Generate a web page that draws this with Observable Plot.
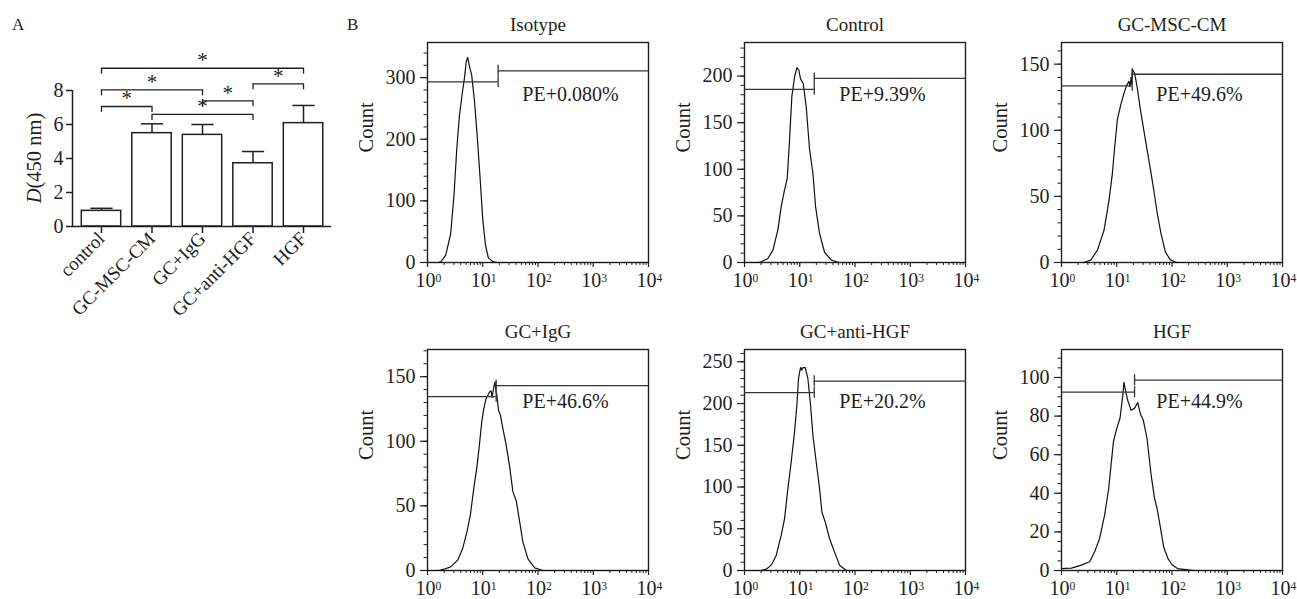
<!DOCTYPE html>
<html><head><meta charset="utf-8">
<script src="https://cdn.jsdelivr.net/npm/d3@7"></script>
<script src="https://cdn.jsdelivr.net/npm/@observablehq/plot@0.6"></script>
<style>
html,body{margin:0;padding:0;background:#fff;}
#fig{position:relative;width:1297px;height:599px;overflow:hidden;font-family:"Liberation Serif","Times New Roman",serif;color:#231f20;}
#fig svg{position:absolute;overflow:visible;font-family:"Liberation Serif","Times New Roman",serif !important;}
#fig svg text, #fig svg tspan{font-family:"Liberation Serif","Times New Roman",serif !important;}
#fig svg g[aria-label="y-axis tick label"]{font-size:20px !important;}
#fig svg.hist g[aria-label="x-axis tick label"]{font-size:20px !important;}
#fig svg.barA g[aria-label="x-axis tick label"]{font-size:19px !important;}
.plabel{position:absolute;font-size:17px;line-height:17px;}
</style></head><body><div id="fig"></div>
<script>
// ---------- Panel A data ----------
const categories = ["control", "GC-MSC-CM", "GC+IgG", "GC+anti-HGF", "HGF"];
const means = [0.92, 5.49, 5.39, 3.72, 6.08];
const errs = [0.15, 0.55, 0.61, 0.69, 1.04];
const yTicksA = [0, 2, 4, 6, 8];
const bracketFrom = ["control", "control", "control", "GC-MSC-CM", "GC+IgG", "GC+anti-HGF"];
const bracketTo = ["GC-MSC-CM", "GC+IgG", "HGF", "GC+anti-HGF", "GC+anti-HGF", "HGF"];
const bracketLevel = [7.06, 8.04, 9.31, 6.59, 7.39, 8.39];

// ---------- Panel B data: [log10 fluorescence, count] ----------
const isotypeCurve = [[0,0],[0.2,0],[0.25,2],[0.33,12],[0.42,47],[0.48,110],[0.53,185],[0.58,240],[0.63,275],[0.67,300],[0.70,325],[0.727,333],[0.76,318],[0.80,304],[0.85,262],[0.90,205],[0.95,140],[1.0,70],[1.05,28],[1.1,8],[1.18,1.5],[1.25,0],[4,0]];
const controlCurve = [[0,0],[0.25,0],[0.302,0.7],[0.423,4.3],[0.513,13],[0.604,35],[0.664,60],[0.725,78],[0.773,90],[0.815,131],[0.857,178],[0.906,199],[0.948,209],[0.984,206],[1.014,197],[1.063,192],[1.117,167],[1.178,121],[1.238,96],[1.286,60],[1.359,31],[1.449,11],[1.57,2.5],[1.72,0],[4,0]];
const gcmscCurve = [[0,0],[0.4,0],[0.53,1.8],[0.65,9.3],[0.77,24.5],[0.86,47],[0.92,67],[0.963,87.5],[1.011,108],[1.071,119],[1.131,128],[1.179,134],[1.22,137],[1.24,133],[1.26,140],[1.27,135],[1.285,146],[1.324,143],[1.372,132],[1.43,115],[1.49,100],[1.55,85],[1.62,68],[1.68,52],[1.73,38],[1.80,22],[1.88,8],[1.97,2],[2.09,0],[4,0]];
const gcIgGCurve = [[0,0],[0.2,0],[0.30,1],[0.42,2.8],[0.545,8],[0.636,17],[0.715,30],[0.776,43],[0.836,63],[0.897,81],[0.939,97],[0.982,115],[1.018,125],[1.06,133],[1.12,138],[1.15,139],[1.17,134],[1.2,142],[1.224,146],[1.24,138],[1.255,136],[1.285,124],[1.32,120],[1.364,110],[1.424,97],[1.485,81],[1.545,61],[1.606,54],[1.667,38],[1.727,22],[1.818,9],[1.94,2],[2.09,0],[4,0]];
const antiHGFCurve = [[0,0],[0.3,0],[0.393,1.6],[0.483,6.4],[0.574,18],[0.664,42],[0.725,62],[0.785,98],[0.845,130],[0.906,166],[0.948,198],[0.978,230],[1.014,243],[1.035,240],[1.057,243],[1.099,243],[1.147,230],[1.196,198],[1.238,162],[1.298,130],[1.359,98],[1.401,70],[1.461,58],[1.54,38],[1.63,22],[1.721,6.4],[1.842,0],[4,0]];
const hgfCurve = [[0,1],[0.18,1.2],[0.36,2.8],[0.51,4.5],[0.60,9.7],[0.69,16.6],[0.78,28.7],[0.854,42.5],[0.902,56],[0.94,66.7],[0.999,73.5],[1.06,79],[1.11,91],[1.13,97.5],[1.16,93],[1.2,88],[1.26,83],[1.32,84],[1.38,87],[1.43,81],[1.48,78],[1.55,68],[1.62,50],[1.68,38],[1.73,32],[1.78,24],[1.85,12],[1.93,6],[2.0,3],[2.1,1],[2.25,0.5],[2.4,0],[4,0]];

const panelTitles = ["Isotype", "Control", "GC-MSC-CM", "GC+IgG", "GC+anti-HGF", "HGF"];
const peLabels = ["PE+0.080%", "PE+9.39%", "PE+49.6%", "PE+46.6%", "PE+20.2%", "PE+44.9%"];
const panelCurves = [isotypeCurve, controlCurve, gcmscCurve, gcIgGCurve, antiHGFCurve, hgfCurve];
const yMax = [357, 236, 166.4, 171, 264.7, 114.5];
const yMajorTicks = [[0,100,200,300],[0,50,100,150,200],[0,50,100,150],[0,50,100,150],[0,50,100,150,200,250],[0,20,40,60,80,100]];
const yMinorStep = [20, 10, 10, 10, 10, 5];
const gateBoundary = [19, 18.3, 19, 17.5, 18.3, 21];
const gateLeftLevel = [293, 185.7, 133.6, 134.5, 213, 92.4];
const gateRightLevel = [311, 197.5, 142.4, 143, 226.8, 98.6];
const xDecades = [1, 10, 100, 1000, 10000];

const INK = "#231f20";
const FONT = "Liberation Serif";
const fig = document.getElementById("fig");

function place(svg, left, top, cls) {
  svg.style.left = left + "px";
  svg.style.top = top + "px";
  svg.classList.add(cls);
  fig.appendChild(svg);
}

// ---------- Panel A ----------
const barData = categories.map((c, i) => ({i, c, mean: means[i], err: errs[i]}));
const brk = bracketFrom.map((f, k) => ({a: categories.indexOf(f), b: categories.indexOf(bracketTo[k]), level: bracketLevel[k]}));
const halfW = 0.39, capW = 0.22, drop = 0.35;
const xDomA = [-0.574, 4.554];

const plotA = Plot.plot({
  width: 340, height: 300, marginLeft: 72, marginRight: 9, marginTop: 90, marginBottom: 74,
  style: {fontFamily: FONT, fontSize: "18px", color: INK, background: "transparent", overflow: "visible"},
  x: {type: "linear", domain: xDomA},
  y: {domain: [0, 8]},
  marks: [
    Plot.rectY(barData, {x1: d => d.i - halfW, x2: d => d.i + halfW, y1: 0, y2: "mean", fill: "white", stroke: INK, strokeWidth: 1.5}),
    Plot.ruleX(barData, {x: "i", y1: "mean", y2: d => d.mean + d.err, stroke: INK, strokeWidth: 1.5}),
    Plot.link(barData, {x1: d => d.i - capW, x2: d => d.i + capW, y1: d => d.mean + d.err, y2: d => d.mean + d.err, stroke: INK, strokeWidth: 1.5}),
    Plot.axisY({ticks: yTicksA, tickSize: 6, tickPadding: 3, label: null, stroke: INK, strokeWidth: 1.5}),
    Plot.axisX({ticks: barData.map(d => d.i), tickSize: 7, tickPadding: 2, tickRotate: -45, tickFormat: i => categories[i], label: null, stroke: INK, strokeWidth: 1.5}),
    Plot.ruleX([xDomA[0]], {y1: 0, y2: 8, stroke: INK, strokeWidth: 1.5}),
    Plot.ruleY([0], {stroke: INK, strokeWidth: 1.5}),
    Plot.link(brk, {x1: "a", x2: "b", y1: "level", y2: "level", stroke: INK, strokeWidth: 1.3}),
    Plot.ruleX(brk, {x: "a", y1: d => d.level - drop, y2: "level", stroke: INK, strokeWidth: 1.3}),
    Plot.ruleX(brk, {x: "b", y1: d => d.level - drop, y2: "level", stroke: INK, strokeWidth: 1.3}),
    Plot.text(brk, {x: d => (d.a + d.b) / 2, y: "level", text: () => "*", dy: -8, fontSize: 21, fill: INK})
  ]
});
place(plotA, 0, 0, "barA");
{
  const t = d3.select(plotA).append("text")
    .attr("transform", "translate(34,158) rotate(-90)")
    .attr("text-anchor", "middle").attr("dy", "0.35em")
    .attr("font-size", 20.5).attr("fill", INK);
  t.append("tspan").attr("font-style", "italic").text("D");
  t.append("tspan").text("(450 nm)");
}

// ---------- Panel B ----------
const colLeft = [427, 744, 1061];
const rowTop = [42, 349];
const frameH = [220, 221];
const frameW = 221;
const ML = 80, MT = 45, MR = 20, MB = 40;
const minorX = [];
for (let k = 0; k < 4; k++) for (let m = 2; m <= 9; m++) minorX.push(m * 10 ** k);

panelTitles.forEach((title, p) => {
  const row = Math.floor(p / 3), col = p % 3;
  const H = frameH[row];
  const ymax = yMax[p];
  const half = 5.5 * ymax / H;
  const pts = panelCurves[p].map(([lg, c]) => ({x: 10 ** lg, y: c}));
  const g = gateBoundary[p], lo = gateLeftLevel[p], hi = gateRightLevel[p];
  const svg = Plot.plot({
    width: ML + frameW + MR, height: MT + H + MB,
    marginLeft: ML, marginRight: MR, marginTop: MT, marginBottom: MB,
    style: {fontFamily: FONT, fontSize: "19px", color: INK, background: "transparent", overflow: "visible"},
    x: {type: "log", domain: [1, 1e4]},
    y: {domain: [0, ymax]},
    marks: [
      Plot.axisX({ticks: xDecades, tickSize: 5, tickPadding: 5, tickFormat: d => String(Math.round(Math.log10(d))), label: null, stroke: INK, strokeWidth: 1.2}),
      Plot.axisX({ticks: minorX, tickSize: 3, tickFormat: () => "", label: null, stroke: INK, strokeWidth: 1}),
      Plot.axisY({ticks: yMajorTicks[p], tickSize: 7, tickPadding: 5, label: null, stroke: INK, strokeWidth: 1.2}),
      Plot.axisY({ticks: d3.range(0, ymax, yMinorStep[p]), tickSize: 3.5, tickFormat: () => "", label: null, stroke: INK, strokeWidth: 1}),
      Plot.frame({stroke: INK, strokeWidth: 1.4}),
      Plot.line(pts, {x: "x", y: "y", stroke: "#111", strokeWidth: 1.2}),
      Plot.ruleY([lo], {x1: 1, x2: g, stroke: "#333", strokeWidth: 1.3}),
      Plot.ruleY([hi], {x1: g, x2: 1e4, stroke: "#333", strokeWidth: 1.3}),
      Plot.ruleX([g], {y1: lo - half, y2: lo + half, stroke: "#333", strokeWidth: 1.3}),
      Plot.ruleX([g], {y1: hi - half, y2: hi + half, stroke: "#333", strokeWidth: 1.3}),
      Plot.text([peLabels[p]], {x: 52, frameAnchor: "top", dy: 58, lineAnchor: "bottom", textAnchor: "start", fontSize: 20, fill: INK}),
      Plot.text([title], {frameAnchor: "top", dy: -12, lineAnchor: "bottom", fontSize: 19, fill: INK}),
      Plot.text(["Count"], {frameAnchor: "left", rotate: -90, dx: -61, fontSize: 20.5, fill: INK})
    ]
  });
  // superscript exponents on decade labels
  d3.select(svg).selectAll('g[aria-label="x-axis tick label"] text').each(function() {
    const k = this.textContent;
    if (!k) return;
    const t = d3.select(this);
    t.text("");
    t.attr("transform", (t.attr("transform") || "") + " translate(1,0)");
    t.append("tspan").text("10");
    t.append("tspan").attr("dy", "-0.42em").attr("font-size", "0.58em").text(k);
  });
  place(svg, colLeft[col] - ML, rowTop[row] - MT, "hist");
});

// panel letters
for (const [txt, x] of [["A", 12], ["B", 347]]) {
  const d = document.createElement("div");
  d.className = "plabel";
  d.style.left = x + "px";
  d.style.top = "16px";
  d.textContent = txt;
  fig.appendChild(d);
}
</script></body></html>
